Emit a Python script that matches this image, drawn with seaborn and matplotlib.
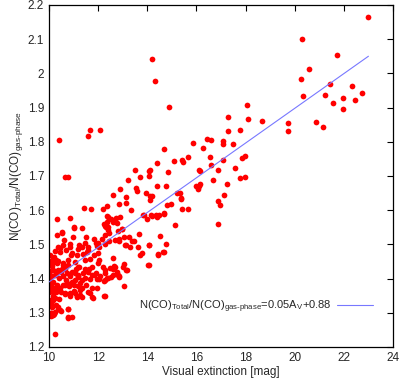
import matplotlib
matplotlib.use('Agg')
import matplotlib.pyplot as plt
import seaborn as sns

# visual extinction (A_V) of each cloud position
av = [
    # outliers high above the trend
    10.42, 10.66, 10.79, 11.57, 11.68, 12.08, 14.19, 14.30, 14.90,
    # 10 - 11 mag
    10.31, 10.84, 10.54, 10.34, 10.51, 10.61, 10.97,
    10.35, 10.45, 10.58, 10.86, 10.92, 10.70, 10.84, 10.46,
    10.04, 10.13, 10.31, 10.58, 10.79, 10.19, 10.30, 10.14, 10.38, 10.57, 10.78, 10.91,
    10.11, 10.31, 10.52, 10.72, 10.92, 10.16, 10.36, 10.50, 10.64,
    10.07, 10.23, 10.41, 10.57, 10.70, 10.86, 10.02,
    10.09, 10.20, 10.36, 10.50, 10.65, 10.81, 10.45, 10.58, 10.72, 10.92, 10.18, 10.31, 10.11, 10.18,
    10.64, 10.84, 10.65, 10.86, 10.24, 10.08, 10.03, 10.16, 10.03, 10.14, 10.30, 10.38, 10.11,
    10.09, 10.16, 10.23, 10.46, 10.77, 10.79, 10.38, 10.48, 10.10, 10.22, 10.09,
    10.76, 10.79, 10.95, 10.26,
    10.02, 10.05, 10.12, 10.25, 10.02, 10.15, 10.28, 10.42,
    # 11 - 12.5 mag
    11.03, 11.02, 11.36, 11.41, 11.72, 11.49, 11.24, 11.45, 11.85, 11.92, 12.05, 12.27,
    11.13, 11.33, 11.53, 11.60, 11.18, 11.38, 11.58, 11.65, 11.85, 12.00, 12.05,
    11.06, 11.19, 11.47, 11.74, 12.01, 12.21, 11.08, 11.24, 11.45, 11.62, 11.92, 12.26,
    11.19, 11.40, 11.60, 11.85, 12.08, 12.28, 11.04, 11.19, 11.35, 11.65, 11.74, 12.05, 12.22,
    11.06, 11.19, 11.26, 11.33, 11.47, 11.00, 11.18, 11.28, 11.49, 11.95, 11.60, 11.74, 11.94, 12.28, 12.37,
    11.04, 11.14, 11.34, 11.65, 11.76, 12.23, 11.13, 11.26, 11.00, 11.78, 12.28,
    12.35, 12.42, 12.36, 12.22, 12.30, 12.28, 12.42, 12.39, 12.28, 12.46, 12.14, 12.01, 11.94, 12.46,
    12.48, 12.39, 12.36, 12.19,
    # 12.5 - 14 mag
    12.51, 12.72, 12.59, 12.77, 12.89, 12.96, 12.99, 12.80, 12.69, 12.86, 12.86, 13.04, 13.26, 13.37,
    13.46, 13.68, 13.14, 13.30, 13.61, 13.78, 13.71, 13.11,
    12.62, 12.69, 12.53, 12.62, 12.66, 12.59, 12.84, 12.76, 12.86, 12.82, 13.03, 13.14, 13.16, 13.07, 13.04,
    12.60, 12.86, 13.13, 13.15, 12.90, 13.20, 13.52, 13.53, 13.71, 13.57, 13.96, 13.82, 13.88, 14.00, 13.35,
    # 14 - 16 mag
    14.08, 14.08, 14.11, 14.40, 14.68, 14.86, 15.08, 15.43, 15.44, 15.67, 15.85,
    14.40, 14.75, 14.18, 14.11, 14.10, 15.20, 15.34, 15.38, 15.99, 16.12, 16.05,
    14.79, 14.97, 14.66, 15.40, 15.67, 15.36,
    14.18, 14.41, 14.48, 14.70, 14.16, 14.35,
    15.14, 14.51, 14.07, 14.75, 14.68, 14.45, 14.05, 14.03, 14.07, 14.62, 14.43,
    # 16 - 18 mag
    16.09, 16.15, 16.15, 16.26, 16.42, 16.60, 16.56, 16.60, 16.66, 16.86,
    17.07, 17.07, 17.48, 17.09, 17.85, 17.97, 17.55, 17.77, 17.96, 17.26,
    17.29, 17.29, 17.78, 18.05, 18.08,
    17.14, 16.86, 16.97, 16.86,
    # beyond 18 mag
    18.68, 19.73, 19.73, 20.28, 20.58, 20.24, 20.35, 20.85, 21.15, 21.24, 21.43, 21.55,
    21.73, 21.95, 21.95, 22.34, 22.44, 22.74, 22.98,
]

# N(CO)_Total / N(CO)_gas-phase
ratio = [
    1.806, 1.697, 1.697, 1.816, 1.835, 1.835, 2.042, 1.978, 1.902,
    1.573, 1.577, 1.534, 1.527, 1.535, 1.513, 1.522,
    1.493, 1.479, 1.498, 1.500, 1.474, 1.483, 1.491, 1.488,
    1.469, 1.454, 1.445, 1.440, 1.454, 1.464, 1.454, 1.437, 1.450, 1.445, 1.440, 1.469,
    1.425, 1.420, 1.427, 1.415, 1.420, 1.425, 1.425, 1.420, 1.429,
    1.406, 1.411, 1.401, 1.408, 1.396, 1.406, 1.415,
    1.382, 1.372, 1.367, 1.361, 1.382, 1.377, 1.372, 1.381, 1.386, 1.391, 1.391, 1.381, 1.372, 1.362,
    1.357, 1.350, 1.354, 1.357, 1.342, 1.332, 1.338, 1.338, 1.323, 1.317, 1.323, 1.318, 1.323,
    1.299, 1.294, 1.301, 1.307, 1.312, 1.311, 1.311, 1.305, 1.298, 1.296, 1.291,
    1.289, 1.284, 1.287, 1.237,
    1.360, 1.395, 1.445, 1.480, 1.440, 1.350, 1.360, 1.340,
    1.550, 1.547, 1.547, 1.605, 1.603, 1.521, 1.498, 1.503, 1.517, 1.503, 1.491, 1.501,
    1.469, 1.491, 1.479, 1.493, 1.485, 1.472, 1.483, 1.457, 1.469, 1.474, 1.454,
    1.449, 1.435, 1.454, 1.435, 1.445, 1.435, 1.429, 1.435, 1.427, 1.429, 1.417, 1.425,
    1.410, 1.415, 1.420, 1.410, 1.406, 1.415, 1.416, 1.404, 1.396, 1.398, 1.411, 1.398, 1.394,
    1.396, 1.406, 1.386, 1.372, 1.401, 1.382, 1.377, 1.367, 1.382, 1.372, 1.362, 1.372, 1.399, 1.396, 1.403,
    1.357, 1.350, 1.346, 1.357, 1.346, 1.348, 1.347, 1.352, 1.364, 1.343, 1.348,
    1.583, 1.579, 1.566, 1.560, 1.550, 1.554, 1.552, 1.542, 1.527, 1.534, 1.515, 1.503, 1.495, 1.510,
    1.430, 1.401, 1.612, 1.603,
    1.573, 1.576, 1.566, 1.563, 1.579, 1.544, 1.544, 1.540, 1.513, 1.517, 1.510, 1.522, 1.521, 1.511,
    1.510, 1.530, 1.498, 1.493, 1.493, 1.474, 1.469, 1.498,
    1.459, 1.435, 1.405, 1.427, 1.437, 1.411, 1.406, 1.420, 1.405, 1.410, 1.433, 1.425, 1.424, 1.443, 1.377,
    1.644, 1.619, 1.639, 1.622, 1.661, 1.687, 1.718, 1.664, 1.697, 1.656, 1.649, 1.585, 1.587, 1.574, 1.600,
    1.715, 1.700, 1.716, 1.739, 1.779, 1.712, 1.745, 1.747, 1.741, 1.756, 1.796,
    1.671, 1.671, 1.640, 1.630, 1.642, 1.651, 1.651, 1.636, 1.670, 1.670, 1.663,
    1.615, 1.617, 1.591, 1.603, 1.603, 1.634,
    1.584, 1.581, 1.586, 1.589, 1.585, 1.585,
    1.557, 1.523, 1.498, 1.500, 1.479, 1.471, 1.498, 1.439, 1.439, 1.479, 1.469,
    1.716, 1.715, 1.677, 1.782, 1.807, 1.805, 1.755, 1.732, 1.689, 1.716,
    1.802, 1.792, 1.794, 1.747, 1.752, 1.758, 1.722, 1.694, 1.698, 1.676,
    1.873, 1.830, 1.835, 1.907, 1.866,
    1.644, 1.627, 1.615, 1.559,
    1.861, 1.856, 1.832, 2.101, 2.012, 1.983, 1.933, 1.859, 1.843, 1.937, 1.970, 1.913,
    2.054, 1.929, 1.897, 1.963, 1.923, 1.943, 2.164,
]

# linear fit, endpoints
fit_av = [10, 23]
fit_ratio = [1.39, 2.05]
fit_label = 'N(CO)$_{Total}$/N(CO)$_{gas\u2010phase}$=0.05A$_{V}$+0.88'

x_ticks = [10, 12, 14, 16, 18, 20, 22, 24]
y_ticks = [1.2, 1.3, 1.4, 1.5, 1.6, 1.7, 1.8, 1.9, 2.0, 2.1, 2.2]
y_tick_labels = ['1.2', '1.3', '1.4', '1.5', '1.6', '1.7', '1.8', '1.9', '2', '2.1', '2.2']

sns.set_style('white')
plt.rcParams['font.family'] = ['Liberation Sans', 'DejaVu Sans']
plt.rcParams['mathtext.default'] = 'regular'
plt.rcParams['font.size'] = 8.5

fig = plt.figure(figsize=(4, 3.8), dpi=100)
ax = fig.add_axes([0.1225, 0.087, 0.86, 0.9])

sns.scatterplot(x=av, y=ratio, color='#ff0000', s=17, linewidth=0, ax=ax, legend=False, zorder=2)
sns.lineplot(x=fit_av, y=fit_ratio, color='#7878ff', linewidth=0.8, ax=ax, label=fit_label, zorder=3)

ax.set_xlim(10, 24)
ax.set_ylim(1.2, 2.2)
ax.set_xticks(x_ticks)
ax.set_yticks(y_ticks)
ax.set_yticklabels(y_tick_labels)
ax.tick_params(direction='in', top=True, right=True, length=4.5, width=0.8, labelsize=8.5,
               color='black', pad=3.5)
for sp in ax.spines.values():
    sp.set_color('black')
    sp.set_linewidth(0.9)

ax.set_xlabel('Visual extinction [mag]', fontsize=8.5, labelpad=1.5)
ax.set_ylabel('N(CO)$_{Total}$/N(CO)$_{gas\u2010phase}$', fontsize=8.5, labelpad=2)

ax.legend(loc='lower right', bbox_to_anchor=(0.97, 0.065), frameon=False, markerfirst=False,
          handlelength=3.2, handletextpad=0.5, fontsize=8)

fig.savefig('out.png', dpi=100)
